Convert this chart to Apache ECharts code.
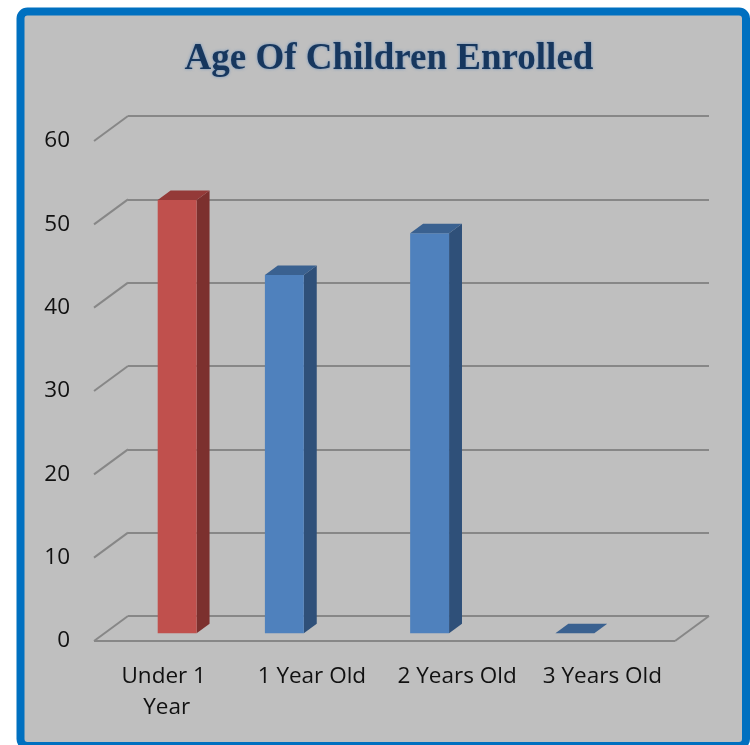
<!DOCTYPE html>
<html>
<head>
<meta charset="utf-8">
<title>Age Of Children Enrolled</title>
<script src="https://cdn.jsdelivr.net/npm/echarts@6/dist/echarts.min.js"></script>
<style>
  html, body { margin: 0; padding: 0; background: #ffffff; }
  #chart { width: 750px; height: 745px; }
</style>
</head>
<body>
<div id="chart"></div>
<script>
// ---- data ----
const categories = ['Under 1 Year', '1 Year Old', '2 Years Old', '3 Years Old'];
const enrolled = [52, 43, 48, 0];
const yTicks = [0, 10, 20, 30, 40, 50, 60];
const highlightIndex = 0;   // the "Under 1 Year" column is drawn in red

// ---- 3D look: floor depth and column placement ----
const DEPTH = [34, -25];          // offset from the front edge of the floor to the back wall
const BAR_FRONT = 0.31;           // columns stand between these fractions of the depth
const BAR_BACK = 0.69;
const BAR_WIDTH = 0.268;          // column width as a share of the category band

const FRONT_GRID = { left: 94, right: 75, top: 141, bottom: 104 };
const BACK_GRID = {
  left: FRONT_GRID.left + DEPTH[0],
  right: FRONT_GRID.right - DEPTH[0],
  top: FRONT_GRID.top + DEPTH[1],
  bottom: FRONT_GRID.bottom - DEPTH[1]
};

const GRID_LINE = '#878787';
const RED = { front: '#c0504d', side: '#7c302e', top: '#943a38' };
const BLUE = { front: '#4f81bd', side: '#2f5079', top: '#3a6190' };

// draws one column as front face, right side and top
function columnRenderer(colors, slot) {
  return function (params, api) {
    const i = api.value(0);
    const v = api.value(1);
    const band = api.size([1, 0])[0];
    const w = band * BAR_WIDTH;
    const base = api.coord([i, 0]);
    const top = api.coord([i, v]);
    const fx = DEPTH[0] * BAR_FRONT, fy = DEPTH[1] * BAR_FRONT;
    const dx = DEPTH[0] * (BAR_BACK - BAR_FRONT), dy = DEPTH[1] * (BAR_BACK - BAR_FRONT);
    const x0 = base[0] + slot * band - w / 2 + fx;
    const x1 = x0 + w;
    const yb = base[1] + fy;
    const yt = top[1] + fy;
    const children = [];
    if (yb - yt > 0.5) {
      children.push({
        type: 'polygon',
        shape: { points: [[x1, yt], [x1 + dx, yt + dy], [x1 + dx, yb + dy], [x1, yb]] },
        style: { fill: colors.side }
      });
      children.push({
        type: 'rect',
        shape: { x: x0, y: yt, width: w, height: yb - yt },
        style: { fill: colors.front }
      });
    }
    children.push({
      type: 'polygon',
      shape: { points: [[x0, yt], [x1, yt], [x1 + dx, yt + dy], [x0 + dx, yt + dy]] },
      style: { fill: colors.top }
    });
    return { type: 'group', children: children };
  };
}

// diagonal tick edges on the left and the front/right edges of the floor
function floorRenderer(params, api) {
  const cs = params.coordSys;
  const v = api.value(1);
  const y = api.coord([0, v])[1];
  const lineStyle = { stroke: GRID_LINE, lineWidth: 2 };
  const children = [{
    type: 'line',
    shape: { x1: cs.x, y1: y, x2: cs.x + DEPTH[0], y2: y + DEPTH[1] },
    style: lineStyle
  }];
  if (v === 0) {
    const xr = cs.x + cs.width;
    children.push({ type: 'line', shape: { x1: cs.x, y1: y, x2: xr, y2: y }, style: lineStyle });
    children.push({ type: 'line', shape: { x1: xr, y1: y, x2: xr + DEPTH[0], y2: y + DEPTH[1] }, style: lineStyle });
  }
  return { type: 'group', children: children };
}

const redData = enrolled.map((v, i) => [i, v]).filter(d => d[0] === highlightIndex);
const blueData = enrolled.map((v, i) => [i, v]).filter(d => d[0] !== highlightIndex);

const labelFont = { fontFamily: 'Open Sans', fontSize: 22.5, color: '#111111' };

const chart = echarts.init(document.getElementById('chart'), null, { renderer: 'canvas' });
chart.setOption({
  animation: false,
  backgroundColor: '#ffffff',
  title: {
    text: 'Age Of Children Enrolled',
    left: 384,
    top: 36,
    textAlign: 'center',
    textStyle: {
      fontFamily: 'Liberation Serif',
      fontWeight: 'bold',
      fontSize: 37,
      color: '#17375e',
      textShadowColor: 'rgba(79,129,189,0.7)',
      textShadowBlur: 3
    }
  },
  graphic: [{
    type: 'rect',
    z: -10,
    silent: true,
    shape: { x: 20.5, y: 11.5, width: 725.5, height: 734.5, r: 7 },
    style: { fill: '#bfbfbf', stroke: '#0070c0', lineWidth: 8 }
  }],
  grid: [
    Object.assign({}, FRONT_GRID),
    Object.assign({}, BACK_GRID)
  ],
  xAxis: [{
    type: 'category',
    gridIndex: 0,
    data: categories,
    axisLine: { show: false },
    axisTick: { show: false },
    splitLine: { show: false },
    axisLabel: Object.assign({
      interval: 0,
      margin: 20,
      lineHeight: 31,
      width: 126,
      overflow: 'break',
      align: 'center'
    }, labelFont)
  }, {
    type: 'category',
    gridIndex: 1,
    data: categories,
    show: false
  }],
  yAxis: [{
    type: 'value',
    gridIndex: 0,
    min: 0,
    max: 60,
    interval: 10,
    axisLine: { show: false },
    axisTick: { show: false },
    splitLine: { show: false },
    axisLabel: Object.assign({ margin: 24 }, labelFont)
  }, {
    type: 'value',
    gridIndex: 1,
    min: 0,
    max: 60,
    interval: 10,
    axisLine: { show: false },
    axisTick: { show: false },
    axisLabel: { show: false },
    splitLine: { show: true, lineStyle: { color: GRID_LINE, width: 2 } }
  }],
  series: [{
    type: 'custom',
    name: 'floor',
    xAxisIndex: 0,
    yAxisIndex: 0,
    silent: true,
    z: 1,
    data: yTicks.map(v => [0, v]),
    encode: { x: 0, y: 1 },
    renderItem: floorRenderer
  }, {
    type: 'custom',
    name: 'Under 1 Year',
    xAxisIndex: 0,
    yAxisIndex: 0,
    z: 3,
    data: redData,
    encode: { x: 0, y: 1 },
    renderItem: columnRenderer(RED, 0)
  }, {
    type: 'custom',
    name: 'Children',
    xAxisIndex: 0,
    yAxisIndex: 0,
    z: 3,
    data: blueData,
    encode: { x: 0, y: 1 },
    renderItem: columnRenderer(BLUE, -0.262)
  }]
});
</script>
</body>
</html>
